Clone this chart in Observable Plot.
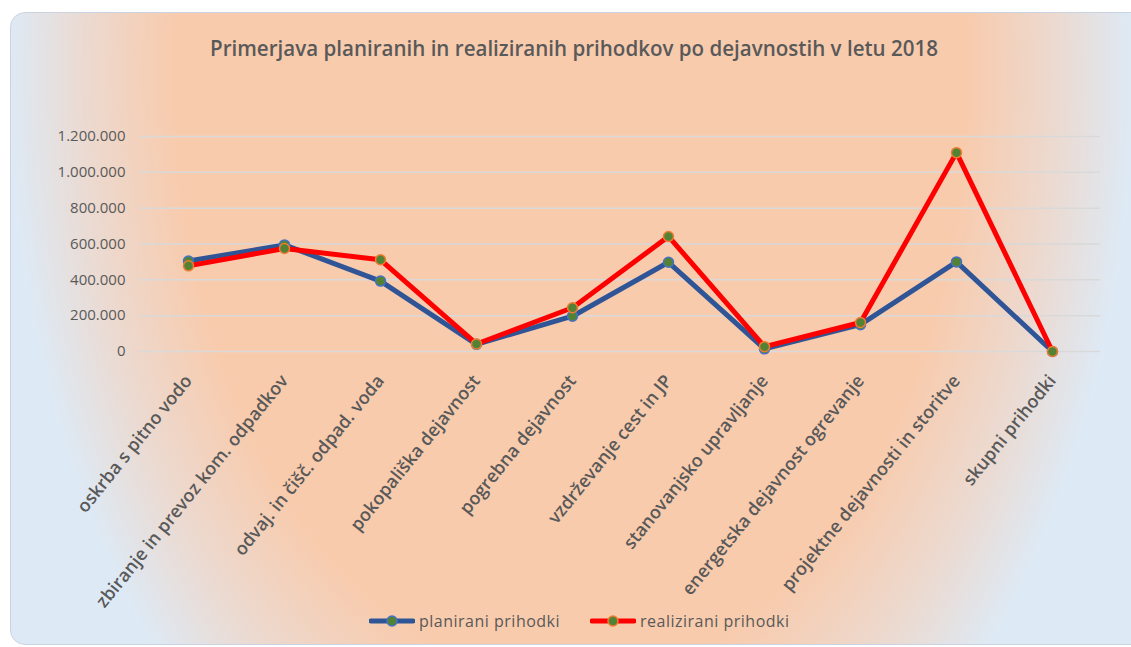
<!DOCTYPE html>
<html>
<head>
<meta charset="utf-8">
<script src="https://cdn.jsdelivr.net/npm/d3@7"></script>
<script src="https://cdn.jsdelivr.net/npm/@observablehq/plot@0.6"></script>
<style>
  html, body { margin: 0; padding: 0; background: #ffffff; }
  #wrap { position: relative; width: 1131px; height: 647px; overflow: hidden; background: #ffffff; font-family: "Open Sans", sans-serif; }
  #panel { position: absolute; left: 10px; top: 12px; width: 1140px; height: 633px; border-radius: 15px;
    border: 1px solid #c9d3e2; box-sizing: border-box;
    background: radial-gradient(ellipse 620px 950px at 560px 60px, #f8cbad 0%, #f8cbad 64%, #ecd9cf 78%, #ddeaf6 91%, #ddeaf6 100%); }
  #title { position: absolute; left: 0; top: 0; }
  #chart { position: absolute; left: 0; top: 0; }
  #legend { position: absolute; top: 609px; left: 0; width: 1131px; height: 26px; }
  .item { position: absolute; top: 0; display: flex; align-items: center; color: #595959; font-size: 16px; letter-spacing: 0.5px; white-space: nowrap; }
  .item svg { margin-right: 4px; }
</style>
</head>
<body>
<div id="wrap">
  <div id="panel"></div>
  <svg id="title" width="1131" height="80"></svg>
  <div id="chart"></div>
  <div id="legend"></div>
</div>
<script>
const titleText = "Primerjava planiranih in realiziranih prihodkov po dejavnostih v letu 2018";
const categories = [
  "oskrba s pitno vodo",
  "zbiranje in prevoz kom. odpadkov",
  "odvaj. in čišč. odpad. voda",
  "pokopališka dejavnost",
  "pogrebna dejavnost",
  "vzdrževanje cest in JP",
  "stanovanjsko upravljanje",
  "energetska dejavnost ogrevanje",
  "projektne dejavnosti in storitve",
  "skupni prihodki"
];
const seriesNames = ["planirani prihodki", "realizirani prihodki"];
const planirani = [505000, 595000, 393000, 40000, 197000, 498000, 15000, 150000, 500000, 0];
const realizirani = [478000, 575000, 512000, 42000, 244000, 642000, 27000, 162000, 1110000, 0];
const yTicks = [0, 200000, 400000, 600000, 800000, 1000000, 1200000];

const lineColors = ["#2f5597", "#ff0000"];
const markerStroke = ["#4472c4", "#ed7d31"];
const markerFill = "#548235";

const fmt = d3.formatLocale({decimal: ",", thousands: ".", grouping: [3], currency: ["", ""]}).format(",d");

const planData = categories.map((c, i) => ({category: c, value: planirani[i], series: seriesNames[0]}));
const realData = categories.map((c, i) => ({category: c, value: realizirani[i], series: seriesNames[1]}));

// Title
const tsvg = d3.select("#title");
tsvg.append("text")
  .attr("x", 574).attr("y", 56)
  .attr("text-anchor", "middle")
  .attr("textLength", 728)
  .attr("lengthAdjust", "spacingAndGlyphs")
  .attr("font-family", "'Open Sans', sans-serif")
  .attr("font-size", 21)
  .attr("font-weight", 600)
  .attr("fill", "#595959")
  .text(titleText);

const chart = Plot.plot({
  width: 1131,
  height: 610,
  marginLeft: 139,
  marginRight: 31,
  marginTop: 136,
  marginBottom: 259,
  style: {background: "transparent", fontFamily: "'Open Sans', sans-serif", color: "#595959", overflow: "visible"},
  x: {type: "point", domain: categories, padding: 0.5},
  y: {domain: [0, 1200000]},
  marks: [
    Plot.gridY(yTicks, {stroke: "#d9d9d9", strokeOpacity: 1, strokeWidth: 1.5}),
    Plot.axisY(yTicks, {tickSize: 0, tickPadding: 14, tickFormat: fmt, fontSize: 15, fill: "#595959", label: null}),
    Plot.axisX({tickSize: 0, tickRotate: -51, tickPadding: 26, fontSize: 18, fontWeight: 600, fill: "#595959", label: null}),
    Plot.line(planData, {x: "category", y: "value", stroke: lineColors[0], strokeWidth: 5}),
    Plot.dot(planData, {x: "category", y: "value", r: 5, fill: markerFill, stroke: markerStroke[0], strokeWidth: 1.5}),
    Plot.line(realData, {x: "category", y: "value", stroke: lineColors[1], strokeWidth: 5}),
    Plot.dot(realData, {x: "category", y: "value", r: 5, fill: markerFill, stroke: markerStroke[1], strokeWidth: 1.5})
  ]
});
document.getElementById("chart").appendChild(chart);

// Legend
const legend = d3.select("#legend");
const lefts = [369, 590];
seriesNames.forEach((name, i) => {
  const item = legend.append("div").attr("class", "item").style("left", lefts[i] + "px");
  const s = item.append("svg").attr("width", 46).attr("height", 24);
  s.append("line").attr("x1", 2).attr("x2", 44).attr("y1", 12).attr("y2", 12)
    .attr("stroke", lineColors[i]).attr("stroke-width", 5).attr("stroke-linecap", "round");
  s.append("circle").attr("cx", 23).attr("cy", 12).attr("r", 5)
    .attr("fill", markerFill).attr("stroke", markerStroke[i]).attr("stroke-width", 1.5);
  item.append("span").text(name);
});
</script>
</body>
</html>
